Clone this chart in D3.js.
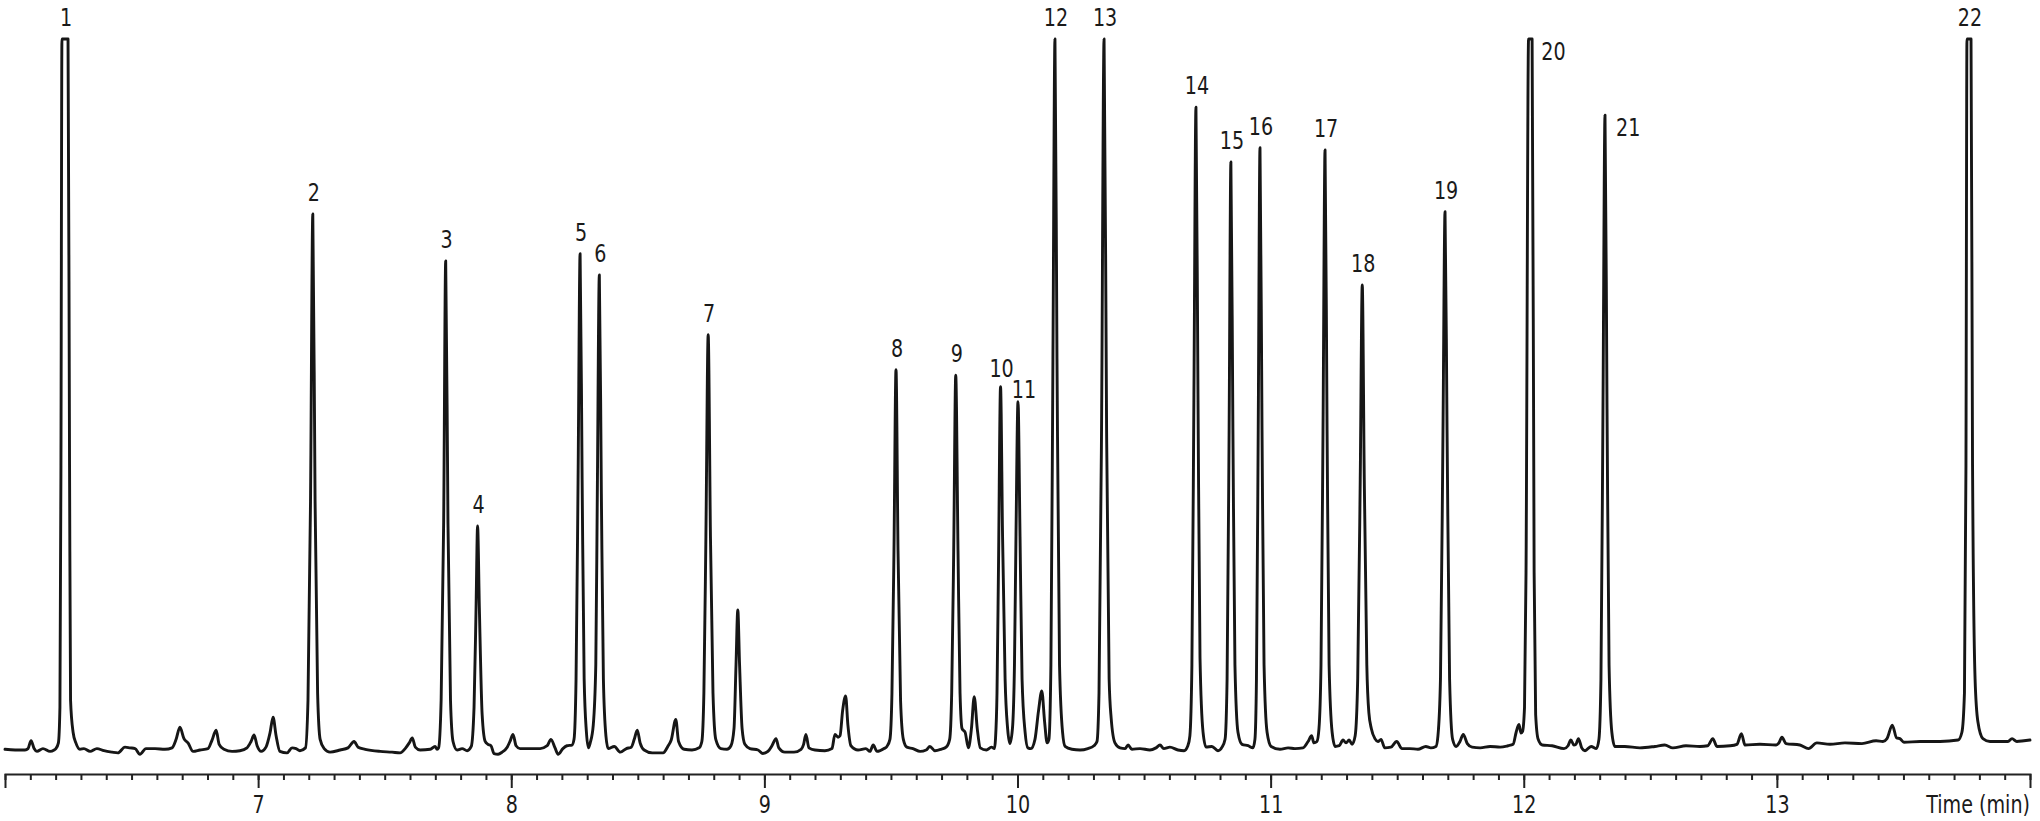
<!DOCTYPE html>
<html>
<head>
<meta charset="utf-8">
<script src="https://cdn.jsdelivr.net/npm/d3@7"></script>
<style>
  body { margin: 0; background: #fff; }
  svg text {
    font-family: "Liberation Sans Narrow", "DejaVu Sans Condensed", sans-serif;
    font-size: 25px;
    fill: #1a1a1a;
  }
</style>
</head>
<body>
<svg id="chart"></svg>
<script>
// chromatogram trace: [time (min), signal (% of full scale)]
const trace = [
    [6.000, 0.1], [6.040, 0.0], [6.079, 0.0], [6.091, 0.2], [6.103, 1.3], [6.115, 0.2], [6.126, -0.2],
    [6.150, 0.2], [6.178, -0.2], [6.194, 0.0], [6.201, 0.2], [6.211, 1.0], [6.217, 6], [6.221, 40],
    [6.225, 100], [6.249, 100], [6.255, 40], [6.259, 7], [6.269, 2.5], [6.280, 1.0], [6.296, 0.1],
    [6.312, 0.2], [6.336, -0.2], [6.363, 0.2], [6.391, -0.1], [6.423, -0.3], [6.446, -0.4], [6.474, 0.4],
    [6.494, 0.3], [6.514, 0.2], [6.533, -0.6], [6.557, 0.2], [6.593, 0.2], [6.632, 0.1], [6.660, 0.3],
    [6.676, 1.5], [6.691, 3.2], [6.707, 1.6], [6.723, 1.0], [6.743, -0.2], [6.770, 0.0], [6.802, 0.2],
    [6.818, 1.4], [6.834, 2.8], [6.846, 0.8], [6.865, 0.1], [6.897, -0.2], [6.928, -0.1], [6.956, 0.3],
    [6.972, 1.2], [6.984, 2.1], [6.996, 0.6], [7.012, -0.2], [7.031, 0.4], [7.047, 2.4], [7.059, 4.6],
    [7.071, 2.0], [7.086, -0.2], [7.114, -0.4], [7.134, 0.3], [7.150, 0.2], [7.165, -0.1],
    [7.187, 0.3], [7.197, 7], [7.207, 35], [7.216, 75.4], [7.225, 35], [7.235, 8], [7.245, 1.5],
    [7.261, 0.2], [7.284, -0.3], [7.324, 0.0], [7.355, 0.3], [7.379, 1.2], [7.395, 0.4], [7.423, 0.1],
    [7.482, -0.2], [7.529, -0.3], [7.561, -0.4], [7.581, 0.2], [7.597, 1.0], [7.609, 1.7], [7.621, 0.4],
    [7.640, 0.0], [7.680, 0.1], [7.699, 0.5], [7.707, 0.1],
    [7.713, 0.3], [7.723, 7], [7.733, 32], [7.741, 68.8], [7.750, 32], [7.760, 7], [7.770, 1.2],
    [7.786, 0.0], [7.806, 0.2], [7.826, -0.1],
    [7.842, 0.5], [7.853, 6], [7.861, 20], [7.867, 31.5], [7.874, 20], [7.885, 5], [7.897, 1.2],
    [7.908, 0.8], [7.920, 0.6], [7.932, -0.5], [7.948, -0.6], [7.964, -0.3], [7.984, 0.4], [7.995, 1.2],
    [8.007, 2.2], [8.019, 0.6], [8.035, 0.2], [8.074, 0.2], [8.114, 0.2], [8.142, 0.6], [8.157, 1.5],
    [8.173, 0.3], [8.185, -0.6], [8.204, 0.2], [8.220, 0.6], [8.240, 0.7],
    [8.248, 1.5], [8.256, 10], [8.264, 38], [8.272, 69.8], [8.280, 38], [8.288, 10], [8.297, 2.5],
    [8.305, 0.3], [8.312, 1.0], [8.324, 3.5],
    [8.334, 12], [8.340, 36], [8.348, 66.8], [8.356, 36], [8.364, 10], [8.374, 2], [8.383, 0.2],
    [8.407, 0.5], [8.431, -0.3], [8.455, 0.2], [8.474, 0.4], [8.486, 1.5], [8.498, 2.8], [8.509, 1.0],
    [8.525, 0.0], [8.557, -0.4], [8.600, -0.4], [8.620, 0.6], [8.632, 1.4], [8.650, 4.3], [8.661, 1.2],
    [8.683, 0.1], [8.714, 0.0], [8.742, 0.3],
    [8.753, 1.2], [8.761, 8], [8.769, 30], [8.778, 58.4], [8.787, 30], [8.797, 8], [8.808, 1.5],
    [8.828, 0.2], [8.852, 0.1], [8.868, 0.6],
    [8.880, 3], [8.888, 12], [8.895, 19.7], [8.902, 12], [8.912, 3], [8.923, 0.8],
    [8.943, 0.2], [8.975, 0.0], [8.994, -0.5], [9.014, -0.2], [9.030, 0.6], [9.046, 1.6], [9.057, 0.3],
    [9.081, -0.3], [9.117, -0.3], [9.145, 0.1], [9.155, 0.8], [9.164, 2.2], [9.176, 0.3], [9.200, 0.0],
    [9.239, -0.1], [9.267, 0.2], [9.279, 2.2], [9.291, 1.8], [9.299, 2.0], [9.309, 5.5], [9.321, 7.6],
    [9.330, 3.5], [9.342, 0.6], [9.370, 0.0], [9.401, 0.2], [9.417, -0.2], [9.430, 0.7], [9.445, -0.2],
    [9.473, 0.2], [9.484, 0.5],
    [9.496, 1.5], [9.504, 8], [9.512, 28], [9.520, 53.5], [9.528, 28], [9.538, 7], [9.549, 1.5],
    [9.563, 0.4], [9.587, 0.2], [9.615, -0.2], [9.639, 0.0], [9.654, 0.5], [9.674, -0.1], [9.698, 0.1],
    [9.718, 0.4],
    [9.732, 1.5], [9.740, 8], [9.748, 28], [9.756, 52.7], [9.765, 28], [9.773, 8], [9.781, 3],
    [9.793, 2.5], [9.806, 0.3], [9.818, 3], [9.829, 7.5], [9.841, 3], [9.853, 0.3], [9.877, 0.0],
    [9.897, 0.4], [9.909, 0.2],
    [9.913, 1.5], [9.919, 8], [9.925, 26], [9.933, 51.1], [9.941, 30], [9.951, 10], [9.961, 3],
    [9.970, 0.9],
    [9.980, 3], [9.988, 12], [9.994, 30], [10.002, 49.0], [10.010, 30], [10.018, 10], [10.030, 2.5],
    [10.041, 0.3], [10.053, 0.2], [10.069, 1.5], [10.083, 5.5], [10.096, 8.3], [10.107, 4], [10.117, 1.0],
    [10.124, 1.5], [10.132, 12], [10.140, 55], [10.148, 100], [10.156, 55], [10.166, 12], [10.178, 2.5],
    [10.188, 0.5], [10.215, 0.1], [10.247, 0.0], [10.278, 0.2], [10.302, 0.6], [10.314, 1.2],
    [10.322, 8], [10.332, 45], [10.342, 100], [10.352, 45], [10.362, 10], [10.370, 4.5], [10.385, 1.0],
    [10.405, 0.3], [10.425, 0.2], [10.437, 0.7], [10.452, 0.1], [10.484, 0.2], [10.523, 0.0], [10.547, 0.3],
    [10.563, 0.7], [10.578, 0.2], [10.602, 0.4], [10.634, 0.0], [10.658, -0.1], [10.673, 0.6],
    [10.681, 2], [10.689, 12], [10.697, 50], [10.705, 90.4], [10.713, 50], [10.721, 13], [10.733, 2.5],
    [10.745, 0.4], [10.768, 0.5], [10.792, -0.1], [10.808, 0.4],
    [10.820, 1.5], [10.828, 10], [10.836, 45], [10.843, 82.7], [10.851, 45], [10.859, 12], [10.871, 2.5],
    [10.887, 0.8], [10.911, 0.6], [10.930, 0.3],
    [10.938, 1.5], [10.944, 10], [10.951, 45], [10.958, 84.7], [10.966, 45], [10.974, 12], [10.986, 2.5],
    [11.002, 0.5], [11.037, 0.1], [11.069, 0.3], [11.096, 0.2], [11.128, 0.3], [11.148, 1.2], [11.162, 2.0],
    [11.171, 1.0], [11.183, 1.2],
    [11.191, 3], [11.199, 12], [11.207, 45], [11.215, 84.4], [11.223, 45], [11.231, 12], [11.243, 2.5],
    [11.255, 0.5], [11.271, 0.6], [11.286, 1.4], [11.298, 1.0], [11.310, 1.4], [11.322, 0.8],
    [11.334, 2], [11.344, 10], [11.354, 38], [11.362, 65.4], [11.370, 38], [11.380, 12], [11.388, 5.3],
    [11.398, 3], [11.412, 1.6], [11.424, 1.2], [11.436, 1.5], [11.451, 0.3], [11.475, 0.4], [11.498, 1.2],
    [11.519, 0.2], [11.550, 0.2], [11.582, 0.1], [11.613, 0.5], [11.633, 0.3], [11.653, 0.5],
    [11.661, 2], [11.671, 10], [11.681, 45], [11.689, 75.7], [11.697, 45], [11.707, 10], [11.719, 1.5],
    [11.733, 0.5], [11.748, 1.2], [11.761, 2.2], [11.777, 0.9], [11.796, 0.4], [11.828, 0.3], [11.867, 0.5],
    [11.907, 0.4], [11.938, 0.6], [11.958, 0.8], [11.970, 2.5], [11.981, 3.6], [11.989, 2.4], [11.995, 2.6],
    [12.003, 6], [12.009, 25], [12.019, 100], [12.033, 100], [12.041, 25], [12.047, 5], [12.057, 1.5],
    [12.073, 0.7], [12.112, 0.6], [12.159, 0.2], [12.175, 0.6], [12.186, 1.4], [12.198, 0.7], [12.206, 0.8],
    [12.216, 1.6], [12.229, 0.3], [12.242, -0.1], [12.266, 0.5], [12.287, 0.2],
    [12.297, 1.5], [12.305, 10], [12.313, 48], [12.321, 89.3], [12.329, 48], [12.337, 12], [12.348, 2.5],
    [12.360, 0.5], [12.399, 0.5], [12.459, 0.3], [12.518, 0.5], [12.557, 0.7], [12.589, 0.3], [12.641, 0.6],
    [12.696, 0.5], [12.727, 0.6], [12.747, 1.6], [12.763, 0.5], [12.815, 0.6], [12.842, 0.8], [12.860, 2.3],
    [12.874, 0.7], [12.933, 0.8], [12.997, 0.7], [13.008, 1.0], [13.020, 1.8], [13.036, 0.9], [13.091, 0.7],
    [13.125, 0.2], [13.158, 1.0], [13.210, 0.8], [13.269, 1.0], [13.336, 0.9], [13.392, 1.3], [13.419, 1.2],
    [13.435, 1.6], [13.456, 3.5], [13.473, 1.7], [13.486, 1.6], [13.502, 1.1], [13.566, 1.2], [13.645, 1.2],
    [13.716, 1.4], [13.731, 2.5],
    [13.741, 8], [13.747, 40], [13.751, 100], [13.767, 100], [13.773, 40], [13.783, 10], [13.794, 4],
    [13.814, 1.6], [13.842, 1.2], [13.881, 1.2], [13.913, 1.2], [13.929, 1.6], [13.948, 1.2], [13.976, 1.3],
    [14.000, 1.4]
];

// numbered peaks: apex time, apex signal (100 = off scale), where the number sits
const peakIds = [1, 2, 3, 4, 5, 6, 7, 8, 9, 10, 11, 12, 13, 14, 15, 16, 17, 18, 19, 20, 21, 22];
const peakTimes = [6.237, 7.216, 7.741, 7.867, 8.272, 8.348, 8.778, 9.520, 9.756, 9.933, 10.002,
    10.148, 10.342, 10.705, 10.843, 10.958, 11.215, 11.362, 11.689, 12.026, 12.321, 13.759];
const peakTops = [100, 75.4, 68.8, 31.5, 69.8, 66.8, 58.4, 53.5, 52.7, 51.1, 49.0,
    100, 100, 90.4, 82.7, 84.7, 84.4, 65.4, 75.7, 100, 89.3, 100];
const labelSide = ["top", "top", "top", "top", "top", "top", "top", "top", "top", "top", "top",
    "top", "top", "top", "top", "top", "top", "top", "top", "right", "right", "top"];

const majorTicks = [7, 8, 9, 10, 11, 12, 13];
const axisTitle = "Time (min)";

const width = 2040;
const height = 821;
const squeeze = 0.85; // the original lettering is a condensed face

const svg = d3.select("#chart")
    .attr("width", width)
    .attr("height", height);

const x = d3.scaleLinear().domain([6, 14]).range([5, 2030]);
const y = d3.scaleLinear().domain([0, 100]).range([750, 39]);

// the trace
const line = d3.line()
    .x(d => x(d[0]))
    .y(d => y(d[1]))
    .curve(d3.curveMonotoneX);

svg.append("path")
    .datum(trace)
    .attr("fill", "none")
    .attr("stroke", "#161616")
    .attr("stroke-width", 2.9)
    .attr("stroke-linejoin", "round")
    .attr("stroke-linecap", "round")
    .attr("d", line);

// peak numbers
const peaks = peakIds.map((id, i) => ({ id, t: peakTimes[i], v: peakTops[i], side: labelSide[i] }));
const nudge = { 10: [0, 3], 11: [5, 9] };

svg.append("g")
    .selectAll("text")
    .data(peaks)
    .enter()
    .append("text")
    .attr("text-anchor", d => d.side === "right" ? "start" : "middle")
    .attr("transform", d => {
        const n = nudge[d.id] || [0, 0];
        const lx = x(d.t) + (d.side === "right" ? 11 : 1) + n[0];
        const ly = y(d.v) + (d.side === "right" ? 21 : -13) + n[1];
        return `translate(${lx},${ly}) scale(${squeeze},1)`;
    })
    .text(d => d.id);

// time axis: minor ticks every 0.1 min, labelled major ticks
const axisY = 774;

const minor = svg.append("g")
    .attr("transform", `translate(0,${axisY})`)
    .call(d3.axisBottom(x).tickValues(x.ticks(80)).tickSize(6).tickFormat(""));
minor.select(".domain").remove();

const major = svg.append("g")
    .attr("transform", `translate(0,${axisY})`)
    .call(d3.axisBottom(x)
        .tickValues(majorTicks)
        .tickSize(14)
        .tickSizeOuter(14)
        .tickPadding(7)
        .tickFormat(d3.format("d")));

major.selectAll(".tick text")
    .attr("transform", `scale(${squeeze},1)`);

svg.selectAll(".tick line, .domain")
    .attr("stroke", "#222")
    .attr("stroke-width", 2);

svg.append("text")
    .attr("transform", `translate(2030,813) scale(${squeeze},1)`)
    .attr("text-anchor", "end")
    .text(axisTitle);
</script>
</body>
</html>
